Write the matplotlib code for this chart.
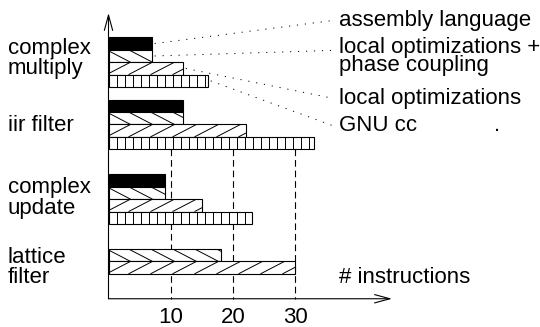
import numpy as np
import matplotlib.pyplot as plt
from matplotlib.collections import LineCollection

plt.rcParams['font.family'] = ['Liberation Sans', 'DejaVu Sans']

# data (number of instructions per benchmark)
benchmarks = ['complex\nmultiply', 'iir filter', 'complex\nupdate', 'lattice\nfilter']
series = ['assembly language', 'local optimizations +\nphase coupling',
          'local optimizations', 'GNU cc']
assembly = [7, 12, 9, np.nan]
phase_coupling = [7, 12, 9, 18]
local_opt = [12, 22, 15, 30]
gnu_cc = [16, 33, 23, np.nan]
xticks = [10, 20, 30]

values = [assembly, phase_coupling, local_opt, gnu_cc]
fills = ['solid', '\\', '/', '|']

# layout: one bar = one slot, groups start at these slots (top -> bottom)
group_start = [0, 5, 11, 16]
label_y = [1.7, 7.1, 12.9, 18.5]
legend_y = [-1.35, 1.55, 4.9, 7.1]

PX = 6.23    # pixels per instruction
PY = 12.45   # pixels per bar slot
X0, Y0 = 108.5, 37.3

fig = plt.figure(figsize=(5.4, 3.27), dpi=100)
ax = fig.add_axes([0, 0, 1, 1])
ax.set_xlim(-X0 / PX, (540 - X0) / PX)
ax.set_ylim((327 - Y0) / PY, -Y0 / PY)
ax.axis('off')


def hatch(rect, kind):
    x0, y0 = rect.get_x(), rect.get_y()
    w, h = rect.get_width(), rect.get_height()
    segs = []
    if kind == '|':
        step = 8 / PX
        for xv in np.arange(step, x0 + w, step):
            segs.append([(xv, y0), (xv, y0 + h)])
    else:
        step = 22 / PX
        run = 24 / PX
        for c in np.arange(-run, x0 + w + step, step):
            if kind == '\\':
                segs.append([(c, y0), (c + run, y0 + h)])
            else:
                segs.append([(c, y0 + h), (c + run, y0)])
    lc = LineCollection(segs, colors='black', linewidths=0.7, zorder=3)
    ax.add_collection(lc)
    lc.set_clip_path(rect)


# dashed reference lines
ax.vlines(xticks, 9, 21, colors='black', linewidth=0.8,
          linestyles=(0, (6, 3.5)), zorder=1)

for k, (vals, fill) in enumerate(zip(values, fills)):
    ys = [g + k for g in group_start]
    if fill == 'solid':
        ax.barh(ys, vals, height=1, align='edge', color='black',
                edgecolor='black', linewidth=0.8, zorder=2)
    else:
        bars = ax.barh(ys, vals, height=1, align='edge', color='white',
                       edgecolor='black', linewidth=0.8, zorder=2)
        for r in bars:
            if r.get_width() > 0:
                hatch(r, fill)

# axes with open arrow heads
arrow = dict(arrowstyle='->,head_length=1.1,head_width=0.3', lw=0.8,
             color='black', shrinkA=0, shrinkB=0)
ax.annotate('', xy=(0, -1.95), xytext=(0, 21), arrowprops=arrow)
ax.annotate('', xy=(45.5, 21), xytext=(0, 21), arrowprops=arrow)

fs = 16
for t in xticks:
    ax.text(t, 22.5, str(t), ha='center', va='center', fontsize=fs)
ax.text(37, 19.3, '# instructions', ha='left', va='center', fontsize=fs)

for lab, y in zip(benchmarks, label_y):
    ax.text(-16.2, y, lab, ha='left', va='center', fontsize=fs, linespacing=0.95)

# legend with dotted leader lines to the first benchmark
for k, (name, y) in enumerate(zip(series, legend_y)):
    ax.text(37, y, name, ha='left', va='center', fontsize=fs, linespacing=0.82)
    yline = y if '\n' not in name else y - 0.5
    ax.plot([values[k][0] + 0.4, 36], [group_start[0] + k + 0.5, yline],
            color='black', lw=0.7, dashes=(1.2, 7))
ax.text(62.3, 7.1, '.', ha='center', va='center', fontsize=fs)

fig.savefig('out.png', dpi=100)
